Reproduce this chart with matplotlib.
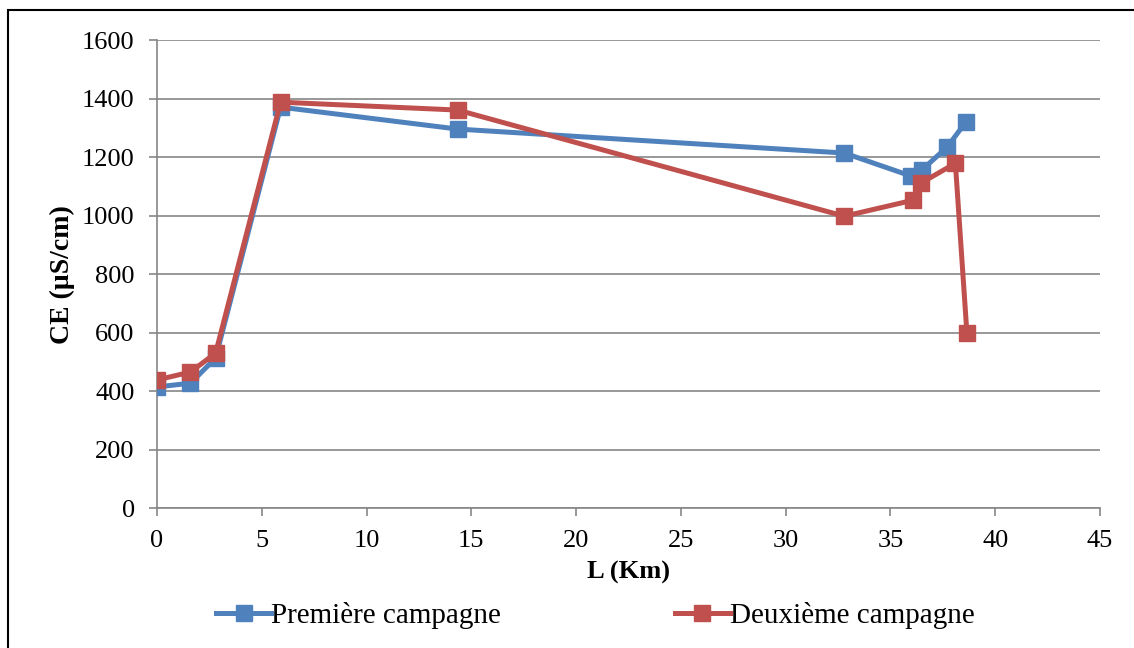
import matplotlib.pyplot as plt
from matplotlib.patches import Rectangle


BLUE = "#4F81BD"
RED = "#C0504D"
GRID_GRAY = "#868686"

# distance along the river (km) and electrical conductivity (µS/cm)
l_first = [0, 1.6, 2.8, 5.9, 14.35, 32.8, 36.0, 36.5, 37.7, 38.6]
ce_first = [414, 427, 513, 1371, 1296, 1214, 1135, 1156, 1234, 1320]

l_second = [0, 1.6, 2.8, 5.9, 14.35, 32.8, 36.1, 36.45, 38.1, 38.65]
ce_second = [438, 465, 530, 1388, 1361, 998, 1053, 1111, 1179, 598]

x_ticks = [0, 5, 10, 15, 20, 25, 30, 35, 40, 45]
y_ticks = [0, 200, 400, 600, 800, 1000, 1200, 1400, 1600]

plt.rcParams["font.family"] = ["Liberation Serif", "DejaVu Serif"]

fig = plt.figure(figsize=(11.34, 6.48), dpi=100)
ax = fig.add_axes([0.1384, 0.216, 0.8316, 0.722])

ax.plot(l_first, ce_first, color=BLUE, linewidth=3.6, marker="s",
        markersize=11.5, label="Première campagne", zorder=3)
ax.plot(l_second, ce_second, color=RED, linewidth=3.6, marker="s",
        markersize=11.5, label="Deuxième campagne", zorder=4)

ax.set_xlim(0, 45)
ax.set_ylim(0, 1600)
ax.set_xticks(x_ticks)
ax.set_yticks(y_ticks)
ax.tick_params(labelsize=19, colors=GRID_GRAY, labelcolor="black",
               length=6, width=1.2, direction="out")
ax.tick_params(axis="y", pad=10)
ax.tick_params(axis="x", pad=10)

ax.grid(axis="y", color=GRID_GRAY, linewidth=1.2)
ax.set_axisbelow(True)

for side in ["top", "right"]:
    ax.spines[side].set_visible(False)
for side in ["left", "bottom"]:
    ax.spines[side].set_color(GRID_GRAY)
    ax.spines[side].set_linewidth(1.2)

ax.set_xlabel("L (Km)", fontsize=19, fontweight="bold", labelpad=6)
ax.set_ylabel("CE (µS/cm)", fontsize=20, fontweight="bold", labelpad=5)

fig.legend(loc="center", bbox_to_anchor=(0.525, 0.05), ncol=2,
           frameon=False, fontsize=21, columnspacing=5.95,
           handlelength=1.9, handletextpad=0.0)

fig.patches.append(Rectangle((8 / 1134, -0.05), 1.2, 1 - 10 / 648 + 0.05,
                             transform=fig.transFigure, fill=False,
                             edgecolor="black", linewidth=1.5))

fig.savefig("out.png", dpi=100)
plt.close(fig)
